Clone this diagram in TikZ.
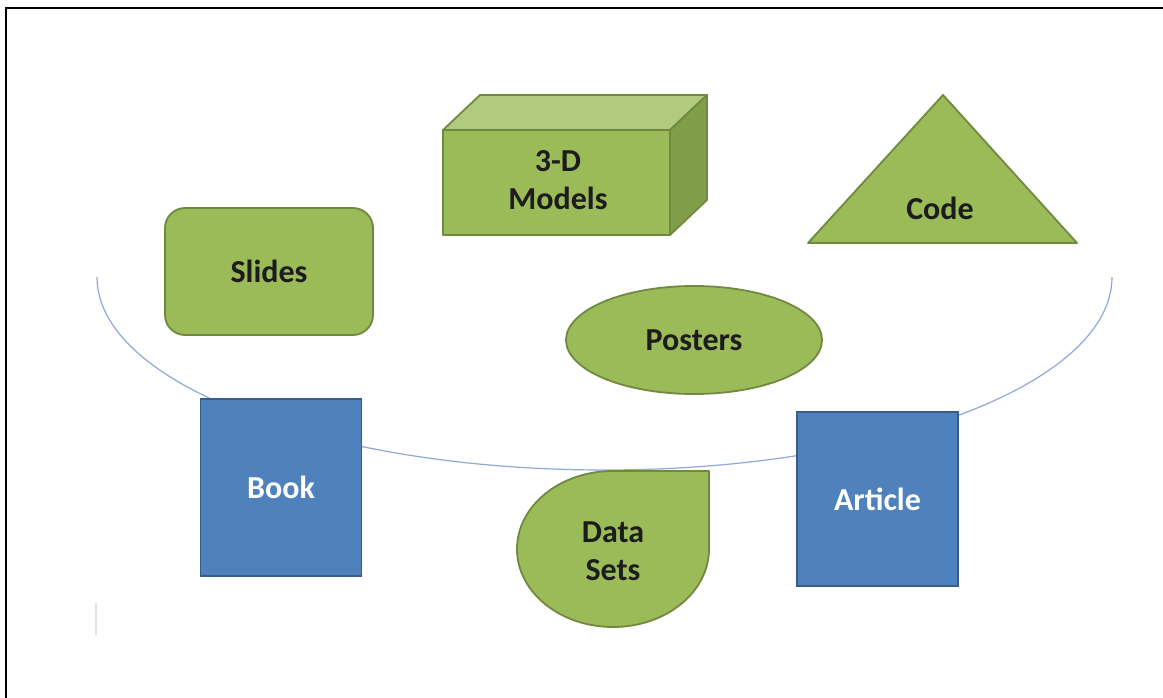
\documentclass[tikz,border=0pt]{standalone}
\usepackage{fontspec}
\setmainfont{Carlito}
\usetikzlibrary{shapes.geometric}
\definecolor{gfill}{HTML}{9BBB59}
\definecolor{gline}{HTML}{71893F}
\definecolor{gtop}{HTML}{B1CB7E}
\definecolor{gside}{HTML}{809E49}
\definecolor{bfill}{HTML}{4F81BD}
\definecolor{bline}{HTML}{385D8A}
\definecolor{curvecol}{HTML}{8FA8D4}
\definecolor{txt}{HTML}{1C1C1C}
\tikzset{
  gshape/.style={fill=gfill, draw=gline, line width=1.8pt, line join=round},
  bshape/.style={fill=bfill, draw=bline, line width=1.8pt},
  lbl/.style={font=\fontsize{32}{38}\selectfont\bfseries, text=txt, align=center, inner sep=0pt},
  wlbl/.style={lbl, text=white},
}
\begin{document}
\begin{tikzpicture}[x=1pt,y=-1pt]
\useasboundingbox (0,0) rectangle (1163,698);
\fill[white] (0,0) rectangle (1163,698);
\draw[line width=2.4pt] (6.2,698) -- (6.2,7.8) -- (1163,7.8);
\draw[black!10, line width=1.5pt] (96,603) -- (96,635);
% background curve
\draw[curvecol, line width=1.2pt] (97,277) arc[start angle=180, end angle=360, x radius=507.5pt, y radius=193pt];
% Slides
\node[rectangle, gshape, rounded corners=20pt, minimum width=208pt, minimum height=127pt, lbl] (slides) at (269,271.5) {Slides};
% 3-D box
\path[fill=gtop, draw=gline, line width=1.8pt, line join=round] (443,130) -- (480,95) -- (707,95) -- (670,130) -- cycle;
\path[fill=gside, draw=gline, line width=1.8pt, line join=round] (670,130) -- (707,95) -- (707,200) -- (670,235) -- cycle;
\path[gshape] (443,130) rectangle (670,235);
\node[lbl] (models) at (558,180) {3-D\\Models};
% Code
\path[gshape] (943,95) -- (1077,243) -- (808,243) -- cycle;
\node[lbl] (code) at (940,208) {Code};
% Posters
\node[ellipse, gshape, minimum width=256pt, minimum height=108pt, lbl] (posters) at (694,340) {Posters};
% Book and Article
\node[rectangle, bshape, minimum width=161pt, minimum height=177pt, wlbl] (book) at (281,487.5) {Book};
\node[rectangle, bshape, minimum width=161pt, minimum height=174pt, wlbl] (article) at (877.5,499) {Article};
% Data Sets teardrop
\path[gshape] (613,471) -- (709,471) -- (709,549) arc[start angle=0, end angle=-270, x radius=96pt, y radius=78pt] -- cycle;
\node[lbl] (data) at (613,551) {Data\\Sets};
\end{tikzpicture}
\end{document}
